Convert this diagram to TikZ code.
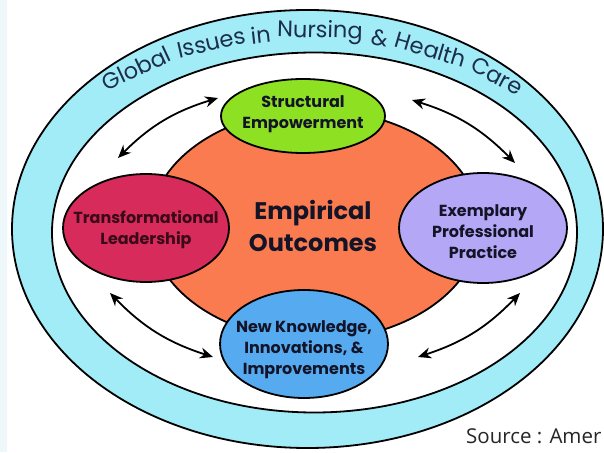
\documentclass[tikz,border=0pt]{standalone}
\usepackage{fontspec}
\usetikzlibrary{arrows.meta}
\newfontfamily\labelfont{Poppins}
\newfontfamily\srcfont{Open Sans}
\definecolor{ringcyan}{HTML}{A2ECF8}
\definecolor{greenfill}{HTML}{8EE022}
\definecolor{orangefill}{HTML}{FA7B4F}
\definecolor{redfill}{HTML}{D62B5B}
\definecolor{purplefill}{HTML}{B4A7F5}
\definecolor{bluefill}{HTML}{55AAF0}
\definecolor{stripcol}{HTML}{EEF7FA}
\definecolor{navytext}{HTML}{141428}
\definecolor{maroontext}{HTML}{3B0A18}
\definecolor{arctext}{HTML}{1C2E4A}
\def\arccx{309}\def\arccy{221}\def\arcrx{300}\def\arcry{199}
% place one word of the ring title at parameter angle #1 of the text ellipse
\newcommand\arcword[2]{%
  \pgfmathsetmacro\wrot{atan2(-\arcry*cos(#1),\arcrx*sin(#1))}%
  \node[rotate=\wrot, font=\labelfont\fontsize{22.5}{24}\selectfont, text=arctext, inner sep=0pt]
    at ({\arccx+\arcrx*cos(#1)},{\arccy+\arcry*sin(#1)}) {#2};%
}
\tikzset{
  x=1pt, y=1pt,
  outline/.style={draw=black, line width=1.8pt},
  pillar/.style={font=\labelfont\bfseries\fontsize{16}{21}\selectfont, align=center, text=navytext},
  twoway/.style={line width=1.8pt, {Stealth[length=13pt,width=11pt]}-{Stealth[length=13pt,width=11pt]}},
}
\begin{document}
\begin{tikzpicture}
\useasboundingbox (0,0) rectangle (604,452);
\fill[white] (0,0) rectangle (604,452);
\fill[stripcol] (0,0) rectangle (7,452);
% rings
\draw[outline, fill=ringcyan] (307.5,223) ellipse [x radius=295.5, y radius=219];
\draw[outline, fill=white] (314.5,219.5) ellipse [x radius=262.5, y radius=180];
% ring text
\arcword{125.2}{Global}
\arcword{109.0}{Issues}
\arcword{99.3}{in}
\arcword{87.9}{Nursing}
\arcword{76.4}{\&}
\arcword{66.0}{Health}
\arcword{51.2}{Care}
% central ellipse
\draw[outline, fill=orangefill] (315,227) ellipse [x radius=165, y radius=115];
\node[font=\labelfont\bfseries\fontsize{24}{32}\selectfont, align=center, text=navytext] (emp) at (313,226) {Empirical\\Outcomes};
% pillars
\draw[outline, fill=greenfill] (303,336) ellipse [x radius=82, y radius=37];
\node[pillar] (se) at (303,338) {Structural\\Empowerment};
\draw[outline, fill=redfill] (146,224) ellipse [x radius=83, y radius=54];
\node[pillar, text=maroontext] (tl) at (146,222) {Transformational\\Leadership};
\draw[outline, fill=purplefill] (483,224) ellipse [x radius=84, y radius=55];
\node[pillar] (ep) at (483,220) {Exemplary\\Professional\\Practice};
\draw[outline, fill=bluefill] (304,108) ellipse [x radius=84, y radius=54];
\node[pillar] (nk) at (304,102) {New Knowledge,\\Innovations, \&\\Improvements};
% arrows
\coordinate (a1s) at (118,294); \coordinate (a1e) at (218,354);
\coordinate (a2s) at (412,352); \coordinate (a2e) at (515,289);
\coordinate (a3s) at (110,159); \coordinate (a3e) at (213,95);
\coordinate (a4s) at (418,95);  \coordinate (a4e) at (520,159);
\draw[twoway] (a1s) to[bend left=14] (a1e);
\draw[twoway] (a2s) to[bend left=14] (a2e);
\draw[twoway] (a3s) to[bend right=14] (a3e);
\draw[twoway] (a4s) to[bend right=14] (a4e);
% source
\node[font=\srcfont\fontsize{20.5}{22}\selectfont, text=black!85, anchor=base west, inner sep=0pt] (src) at (466,9) {Source : Amer};
\end{tikzpicture}
\end{document}
